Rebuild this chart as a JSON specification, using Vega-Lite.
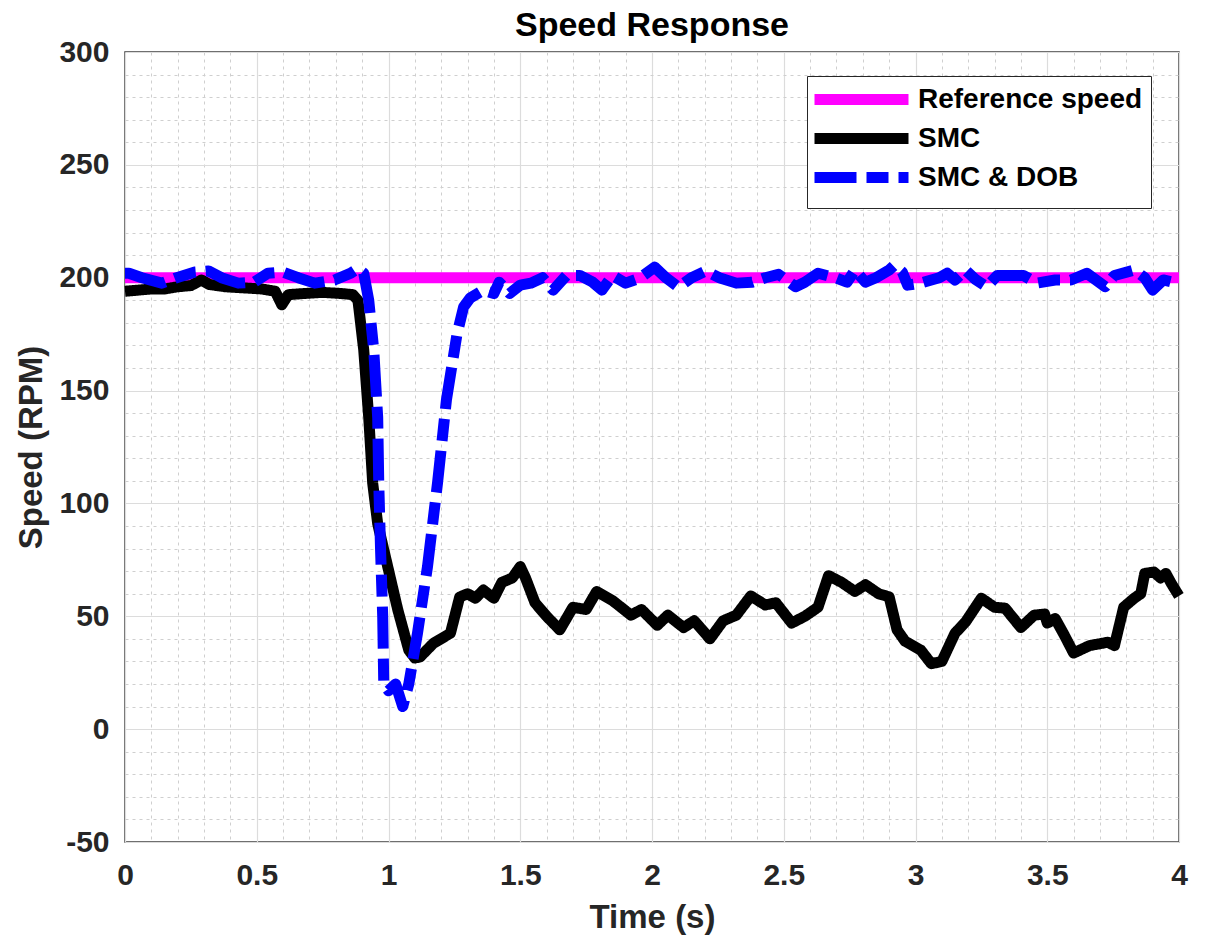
{
  "$schema": "https://vega.github.io/schema/vega-lite/v6.json",
  "width": 1054,
  "height": 790,
  "autosize": {"type": "none"},
  "padding": {"left": 125, "top": 52, "right": 27, "bottom": 103},
  "background": "white",
  "title": {"text": "Speed Response", "fontSize": 34, "font": "Liberation Sans", "fontWeight": "bold", "color": "#000000", "offset": -6, "anchor": "middle"},
  "config": {
    "view": {"stroke": "#404040", "strokeWidth": 1.5},
    "axis": {"labelFont": "Liberation Sans", "labelFontWeight": "bold", "labelColor": "#262626", "titleFont": "Liberation Sans", "titleFontWeight": "bold", "titleColor": "#262626", "domain": false},
    "legend": {"labelFont": "Liberation Sans", "labelFontWeight": "bold", "labelColor": "#000000"}
  },
  "data": {"values": [
    {"t": 0, "v": 200, "series": "Reference speed"},
    {"t": 4, "v": 200, "series": "Reference speed"},
    {"t": 0, "v": 194, "series": "SMC"},
    {"t": 0.05, "v": 194.5, "series": "SMC"},
    {"t": 0.1, "v": 195, "series": "SMC"},
    {"t": 0.15, "v": 195, "series": "SMC"},
    {"t": 0.2, "v": 196, "series": "SMC"},
    {"t": 0.25, "v": 196.5, "series": "SMC"},
    {"t": 0.29, "v": 199, "series": "SMC"},
    {"t": 0.32, "v": 197, "series": "SMC"},
    {"t": 0.38, "v": 196, "series": "SMC"},
    {"t": 0.45, "v": 195.5, "series": "SMC"},
    {"t": 0.52, "v": 195, "series": "SMC"},
    {"t": 0.57, "v": 194, "series": "SMC"},
    {"t": 0.595, "v": 188, "series": "SMC"},
    {"t": 0.62, "v": 192.5, "series": "SMC"},
    {"t": 0.68, "v": 193, "series": "SMC"},
    {"t": 0.75, "v": 193.5, "series": "SMC"},
    {"t": 0.82, "v": 193, "series": "SMC"},
    {"t": 0.865, "v": 192.5, "series": "SMC"},
    {"t": 0.884, "v": 190, "series": "SMC"},
    {"t": 0.906, "v": 168, "series": "SMC"},
    {"t": 0.925, "v": 138, "series": "SMC"},
    {"t": 0.94, "v": 109, "series": "SMC"},
    {"t": 0.959, "v": 91, "series": "SMC"},
    {"t": 0.997, "v": 72, "series": "SMC"},
    {"t": 1.035, "v": 53, "series": "SMC"},
    {"t": 1.077, "v": 35, "series": "SMC"},
    {"t": 1.1, "v": 31.5, "series": "SMC"},
    {"t": 1.12, "v": 32, "series": "SMC"},
    {"t": 1.17, "v": 38, "series": "SMC"},
    {"t": 1.235, "v": 42.5, "series": "SMC"},
    {"t": 1.27, "v": 58.5, "series": "SMC"},
    {"t": 1.3, "v": 60, "series": "SMC"},
    {"t": 1.33, "v": 58, "series": "SMC"},
    {"t": 1.36, "v": 61.6, "series": "SMC"},
    {"t": 1.4, "v": 58, "series": "SMC"},
    {"t": 1.43, "v": 65, "series": "SMC"},
    {"t": 1.47, "v": 67, "series": "SMC"},
    {"t": 1.5, "v": 72, "series": "SMC"},
    {"t": 1.52, "v": 67, "series": "SMC"},
    {"t": 1.556, "v": 56, "series": "SMC"},
    {"t": 1.6, "v": 50, "series": "SMC"},
    {"t": 1.65, "v": 44, "series": "SMC"},
    {"t": 1.7, "v": 54, "series": "SMC"},
    {"t": 1.75, "v": 53, "series": "SMC"},
    {"t": 1.79, "v": 61, "series": "SMC"},
    {"t": 1.85, "v": 57, "series": "SMC"},
    {"t": 1.92, "v": 50.5, "series": "SMC"},
    {"t": 1.96, "v": 53, "series": "SMC"},
    {"t": 2.02, "v": 46, "series": "SMC"},
    {"t": 2.06, "v": 50.5, "series": "SMC"},
    {"t": 2.12, "v": 45, "series": "SMC"},
    {"t": 2.16, "v": 48, "series": "SMC"},
    {"t": 2.22, "v": 40, "series": "SMC"},
    {"t": 2.27, "v": 48, "series": "SMC"},
    {"t": 2.32, "v": 50.5, "series": "SMC"},
    {"t": 2.375, "v": 59, "series": "SMC"},
    {"t": 2.43, "v": 55, "series": "SMC"},
    {"t": 2.47, "v": 56, "series": "SMC"},
    {"t": 2.53, "v": 47, "series": "SMC"},
    {"t": 2.58, "v": 50, "series": "SMC"},
    {"t": 2.63, "v": 54, "series": "SMC"},
    {"t": 2.67, "v": 68, "series": "SMC"},
    {"t": 2.72, "v": 65, "series": "SMC"},
    {"t": 2.77, "v": 61, "series": "SMC"},
    {"t": 2.81, "v": 64, "series": "SMC"},
    {"t": 2.86, "v": 60, "series": "SMC"},
    {"t": 2.9, "v": 58.6, "series": "SMC"},
    {"t": 2.93, "v": 44, "series": "SMC"},
    {"t": 2.96, "v": 39, "series": "SMC"},
    {"t": 3.02, "v": 35, "series": "SMC"},
    {"t": 3.06, "v": 29, "series": "SMC"},
    {"t": 3.1, "v": 30, "series": "SMC"},
    {"t": 3.15, "v": 42.5, "series": "SMC"},
    {"t": 3.19, "v": 47.5, "series": "SMC"},
    {"t": 3.25, "v": 58, "series": "SMC"},
    {"t": 3.3, "v": 54, "series": "SMC"},
    {"t": 3.34, "v": 53.6, "series": "SMC"},
    {"t": 3.4, "v": 45, "series": "SMC"},
    {"t": 3.45, "v": 50.5, "series": "SMC"},
    {"t": 3.49, "v": 51, "series": "SMC"},
    {"t": 3.5, "v": 47, "series": "SMC"},
    {"t": 3.53, "v": 49, "series": "SMC"},
    {"t": 3.565, "v": 41.6, "series": "SMC"},
    {"t": 3.6, "v": 33.7, "series": "SMC"},
    {"t": 3.66, "v": 37, "series": "SMC"},
    {"t": 3.73, "v": 38.5, "series": "SMC"},
    {"t": 3.755, "v": 37, "series": "SMC"},
    {"t": 3.79, "v": 54, "series": "SMC"},
    {"t": 3.83, "v": 58, "series": "SMC"},
    {"t": 3.855, "v": 60, "series": "SMC"},
    {"t": 3.87, "v": 69, "series": "SMC"},
    {"t": 3.905, "v": 69.6, "series": "SMC"},
    {"t": 3.93, "v": 67, "series": "SMC"},
    {"t": 3.95, "v": 69, "series": "SMC"},
    {"t": 3.97, "v": 64.7, "series": "SMC"},
    {"t": 4.0, "v": 59, "series": "SMC"},
    {"t": 0, "v": 202, "series": "SMC & DOB"},
    {"t": 0.015, "v": 202, "series": "SMC & DOB"},
    {"t": 0.064, "v": 200, "series": "SMC & DOB"},
    {"t": 0.14, "v": 197.6, "series": "SMC & DOB"},
    {"t": 0.19, "v": 199.8, "series": "SMC & DOB"},
    {"t": 0.265, "v": 202.5, "series": "SMC & DOB"},
    {"t": 0.317, "v": 203, "series": "SMC & DOB"},
    {"t": 0.366, "v": 200, "series": "SMC & DOB"},
    {"t": 0.43, "v": 197.6, "series": "SMC & DOB"},
    {"t": 0.49, "v": 198, "series": "SMC & DOB"},
    {"t": 0.543, "v": 202, "series": "SMC & DOB"},
    {"t": 0.6, "v": 202.5, "series": "SMC & DOB"},
    {"t": 0.657, "v": 200, "series": "SMC & DOB"},
    {"t": 0.72, "v": 197.6, "series": "SMC & DOB"},
    {"t": 0.795, "v": 199, "series": "SMC & DOB"},
    {"t": 0.857, "v": 202, "series": "SMC & DOB"},
    {"t": 0.883, "v": 204, "series": "SMC & DOB"},
    {"t": 0.906, "v": 202, "series": "SMC & DOB"},
    {"t": 0.925, "v": 190, "series": "SMC & DOB"},
    {"t": 0.944, "v": 168, "series": "SMC & DOB"},
    {"t": 0.959, "v": 138, "series": "SMC & DOB"},
    {"t": 0.963, "v": 109, "series": "SMC & DOB"},
    {"t": 0.97, "v": 79, "series": "SMC & DOB"},
    {"t": 0.978, "v": 50, "series": "SMC & DOB"},
    {"t": 0.982, "v": 20, "series": "SMC & DOB"},
    {"t": 1.0, "v": 17, "series": "SMC & DOB"},
    {"t": 1.027, "v": 20, "series": "SMC & DOB"},
    {"t": 1.054, "v": 10, "series": "SMC & DOB"},
    {"t": 1.077, "v": 20, "series": "SMC & DOB"},
    {"t": 1.11, "v": 42.5, "series": "SMC & DOB"},
    {"t": 1.148, "v": 72, "series": "SMC & DOB"},
    {"t": 1.186, "v": 109, "series": "SMC & DOB"},
    {"t": 1.22, "v": 146, "series": "SMC & DOB"},
    {"t": 1.26, "v": 175, "series": "SMC & DOB"},
    {"t": 1.285, "v": 187, "series": "SMC & DOB"},
    {"t": 1.31, "v": 191, "series": "SMC & DOB"},
    {"t": 1.36, "v": 194.5, "series": "SMC & DOB"},
    {"t": 1.4, "v": 193, "series": "SMC & DOB"},
    {"t": 1.42, "v": 198, "series": "SMC & DOB"},
    {"t": 1.46, "v": 193, "series": "SMC & DOB"},
    {"t": 1.5, "v": 196.7, "series": "SMC & DOB"},
    {"t": 1.54, "v": 197.6, "series": "SMC & DOB"},
    {"t": 1.585, "v": 200, "series": "SMC & DOB"},
    {"t": 1.625, "v": 194.5, "series": "SMC & DOB"},
    {"t": 1.675, "v": 201, "series": "SMC & DOB"},
    {"t": 1.726, "v": 201, "series": "SMC & DOB"},
    {"t": 1.775, "v": 198, "series": "SMC & DOB"},
    {"t": 1.81, "v": 194.5, "series": "SMC & DOB"},
    {"t": 1.85, "v": 201, "series": "SMC & DOB"},
    {"t": 1.9, "v": 197.6, "series": "SMC & DOB"},
    {"t": 1.953, "v": 199.8, "series": "SMC & DOB"},
    {"t": 2.01, "v": 204.7, "series": "SMC & DOB"},
    {"t": 2.055, "v": 199.8, "series": "SMC & DOB"},
    {"t": 2.1, "v": 195.8, "series": "SMC & DOB"},
    {"t": 2.15, "v": 200, "series": "SMC & DOB"},
    {"t": 2.205, "v": 203, "series": "SMC & DOB"},
    {"t": 2.255, "v": 200, "series": "SMC & DOB"},
    {"t": 2.32, "v": 197.6, "series": "SMC & DOB"},
    {"t": 2.38, "v": 198, "series": "SMC & DOB"},
    {"t": 2.43, "v": 200, "series": "SMC & DOB"},
    {"t": 2.48, "v": 201.5, "series": "SMC & DOB"},
    {"t": 2.545, "v": 196, "series": "SMC & DOB"},
    {"t": 2.58, "v": 198, "series": "SMC & DOB"},
    {"t": 2.63, "v": 202, "series": "SMC & DOB"},
    {"t": 2.7, "v": 199.8, "series": "SMC & DOB"},
    {"t": 2.74, "v": 198, "series": "SMC & DOB"},
    {"t": 2.77, "v": 203.4, "series": "SMC & DOB"},
    {"t": 2.81, "v": 198, "series": "SMC & DOB"},
    {"t": 2.85, "v": 200, "series": "SMC & DOB"},
    {"t": 2.9, "v": 203.4, "series": "SMC & DOB"},
    {"t": 2.92, "v": 205.6, "series": "SMC & DOB"},
    {"t": 2.95, "v": 202.5, "series": "SMC & DOB"},
    {"t": 2.97, "v": 196.7, "series": "SMC & DOB"},
    {"t": 3.02, "v": 197.6, "series": "SMC & DOB"},
    {"t": 3.09, "v": 200, "series": "SMC & DOB"},
    {"t": 3.12, "v": 202, "series": "SMC & DOB"},
    {"t": 3.15, "v": 199, "series": "SMC & DOB"},
    {"t": 3.19, "v": 203.4, "series": "SMC & DOB"},
    {"t": 3.23, "v": 199, "series": "SMC & DOB"},
    {"t": 3.27, "v": 196, "series": "SMC & DOB"},
    {"t": 3.31, "v": 201, "series": "SMC & DOB"},
    {"t": 3.36, "v": 201, "series": "SMC & DOB"},
    {"t": 3.41, "v": 201, "series": "SMC & DOB"},
    {"t": 3.46, "v": 197.6, "series": "SMC & DOB"},
    {"t": 3.53, "v": 199, "series": "SMC & DOB"},
    {"t": 3.59, "v": 199, "series": "SMC & DOB"},
    {"t": 3.65, "v": 202, "series": "SMC & DOB"},
    {"t": 3.72, "v": 196, "series": "SMC & DOB"},
    {"t": 3.755, "v": 201, "series": "SMC & DOB"},
    {"t": 3.83, "v": 203.4, "series": "SMC & DOB"},
    {"t": 3.87, "v": 200, "series": "SMC & DOB"},
    {"t": 3.9, "v": 194.5, "series": "SMC & DOB"},
    {"t": 3.94, "v": 199, "series": "SMC & DOB"},
    {"t": 3.99, "v": 197.6, "series": "SMC & DOB"},
    {"t": 4.0, "v": 198, "series": "SMC & DOB"}
  ]},
  "layer": [
    {
      "mark": {"type": "line", "opacity": 0},
      "encoding": {
        "x": {"field": "t", "type": "quantitative", "scale": {"domain": [0, 4], "nice": false, "zero": false},
          "axis": {"orient": "bottom", "values": [0.1,0.2,0.3,0.4,0.6,0.7,0.8,0.9,1.1,1.2,1.3,1.4,1.6,1.7,1.8,1.9,2.1,2.2,2.3,2.4,2.6,2.7,2.8,2.9,3.1,3.2,3.3,3.4,3.6,3.7,3.8,3.9],
            "labels": false, "ticks": false, "domain": false, "title": null, "grid": true, "gridColor": "#cfcfcf", "gridDash": [3, 4], "gridWidth": 1}},
        "y": {"field": "v", "type": "quantitative", "scale": {"domain": [-50, 300], "nice": false, "zero": false},
          "axis": {"orient": "left", "values": [-40,-30,-20,-10,10,20,30,40,60,70,80,90,110,120,130,140,160,170,180,190,210,220,230,240,260,270,280,290],
            "labels": false, "ticks": false, "domain": false, "title": null, "grid": true, "gridColor": "#cfcfcf", "gridDash": [3, 4], "gridWidth": 1}}
      }
    },
    {
      "mark": {"type": "line", "strokeWidth": 11, "strokeJoin": "round", "interpolate": "linear"},
      "encoding": {
        "x": {"field": "t", "type": "quantitative",
          "axis": {"orient": "bottom", "values": [0, 0.5, 1, 1.5, 2, 2.5, 3, 3.5, 4], "labelExpr": "'' + datum.value", "labelFontSize": 30, "labelPadding": 18, "ticks": false, "domain": false, "grid": true, "gridColor": "#dcdcdc", "gridWidth": 1.2, "title": "Time (s)", "titleFontSize": 33, "titlePadding": 11, "labelFlush": false}},
        "y": {"field": "v", "type": "quantitative",
          "axis": {"orient": "left", "values": [-50, 0, 50, 100, 150, 200, 250, 300], "labelExpr": "'' + datum.value", "labelFontSize": 30, "labelPadding": 16, "ticks": false, "domain": false, "grid": true, "gridColor": "#dcdcdc", "gridWidth": 1.2, "title": "Speed (RPM)", "titleFontSize": 33, "titlePadding": 10, "labelFlush": false}},
        "color": {"field": "series", "type": "nominal",
          "scale": {"domain": ["Reference speed", "SMC", "SMC & DOB"], "range": ["#ff00ff", "#000000", "#0000ff"]},
          "legend": {"title": null, "orient": "none", "legendX": 682, "legendY": 24, "fillColor": "#ffffff", "strokeColor": "#262626", "padding": 8,
            "labelFontSize": 28, "labelLimit": 0, "labelOffset": 72, "rowPadding": -6, "symbolType": "M-1.6,0H7.8", "symbolSize": 400, "symbolStrokeWidth": 11}},
        "strokeDash": {"field": "series", "type": "nominal",
          "scale": {"domain": ["Reference speed", "SMC", "SMC & DOB"], "range": [[1, 0], [1, 0], [42, 10, 22, 10]]},
          "legend": {"title": null, "orient": "none", "legendX": 682, "legendY": 24, "fillColor": "#ffffff", "strokeColor": "#262626", "padding": 8,
            "labelFontSize": 28, "labelLimit": 0, "labelOffset": 72, "rowPadding": -6, "symbolType": "M-1.6,0H7.8", "symbolSize": 400, "symbolStrokeWidth": 11}}
      }
    }
  ],
  "resolve": {"axis": {"x": "independent", "y": "independent"}}
}
